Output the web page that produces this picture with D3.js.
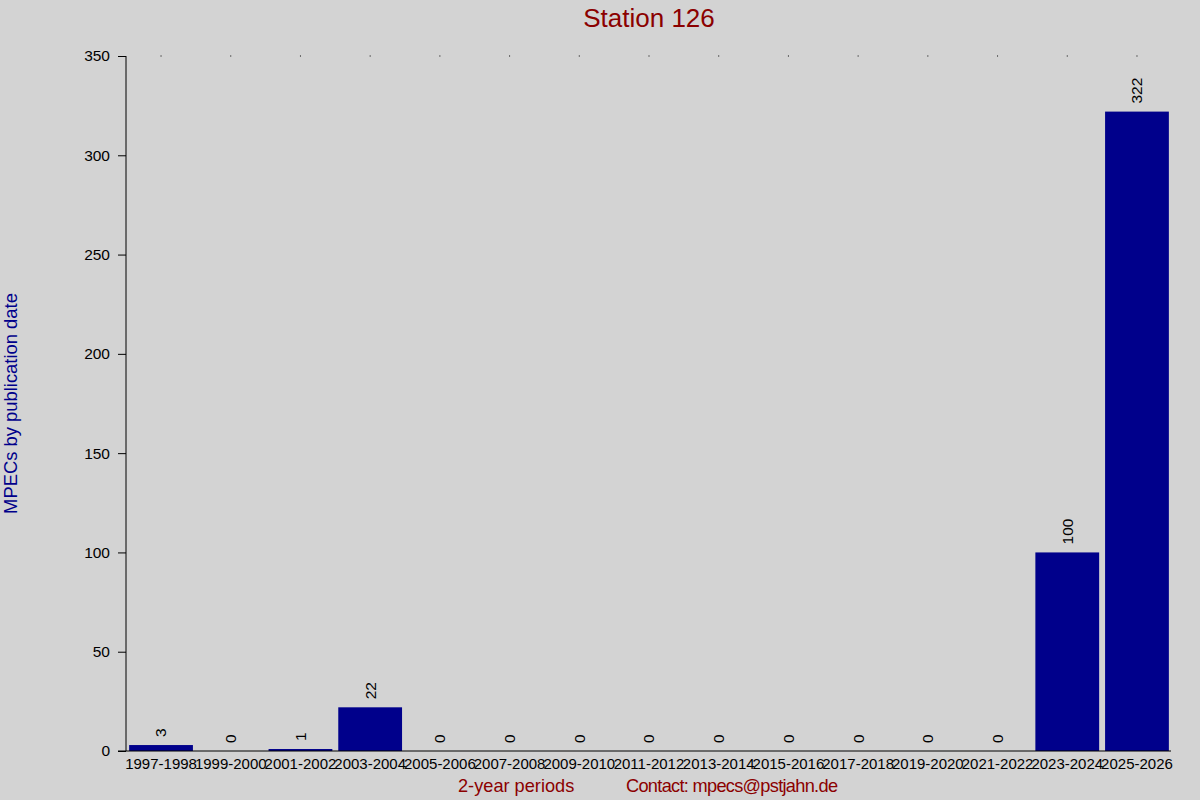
<!DOCTYPE html>
<html>
<head>
<meta charset="utf-8">
<style>
  body { margin: 0; background: #d3d3d3; }
  svg { display: block; font-family: "Liberation Sans", Arial, sans-serif; }
</style>
</head>
<body>
<svg width="1200" height="800"></svg>
<script src="https://d3js.org/d3.v7.min.js"></script>
<script>

    var periods = ["1997-1998", "1999-2000", "2001-2002", "2003-2004", "2005-2006",
                   "2007-2008", "2009-2010", "2011-2012", "2013-2014", "2015-2016",
                   "2017-2018", "2019-2020", "2021-2022", "2023-2024", "2025-2026"];
    var counts = [3, 0, 1, 22, 0, 0, 0, 0, 0, 0, 0, 0, 0, 100, 322];
    var yTicks = [0, 50, 100, 150, 200, 250, 300, 350];

    var svg = d3.select("svg"),
        margin = {top: 56, right: 28, bottom: 49, left: 126},
        width = +svg.attr("width") - margin.left - margin.right,
        height = +svg.attr("height") - margin.top - margin.bottom,
        g = svg.append("g").attr("transform", "translate(" + margin.left + "," + margin.top + ")");

    svg.insert("rect", ":first-child")
        .attr("width", 1200).attr("height", 800)
        .attr("fill", "#d3d3d3");

    var x = d3.scaleBand()
        .domain(periods)
        .range([0, width])
        .paddingInner(0.085)
        .paddingOuter(0.045);

    var y = d3.scaleLinear()
        .domain([0, 350])
        .range([height, 0]);

    // bars
    g.selectAll(".bar")
        .data(counts)
        .enter().append("rect")
        .attr("class", "bar")
        .attr("x", function(d, i) { return x(periods[i]); })
        .attr("y", function(d) { return y(d); })
        .attr("width", x.bandwidth())
        .attr("height", function(d) { return height - y(d); })
        .attr("fill", "#00008b");

    // value labels, rotated
    g.selectAll(".val")
        .data(counts)
        .enter().append("text")
        .attr("class", "val")
        .attr("transform", function(d, i) {
            return "translate(" + (x(periods[i]) + x.bandwidth() / 2) + "," + (y(d) - 8) + ") rotate(-90)";
        })
        .attr("dy", "0.35em")
        .attr("font-size", 15.5)
        .attr("fill", "#000")
        .text(function(d) { return d; });

    // y axis
    var yAxis = g.append("g")
        .call(d3.axisLeft(y).tickValues(yTicks).tickSize(8).tickPadding(8));
    yAxis.select(".domain").attr("d", "M0," + height + "V0");
    yAxis.selectAll("text").attr("font-size", 15.5).attr("font-family", "Liberation Sans, Arial, sans-serif");

    // x axis
    var xAxis = g.append("g")
        .attr("transform", "translate(0," + height + ")")
        .call(d3.axisBottom(x).tickSize(0).tickPadding(7));
    xAxis.select(".domain").attr("d", "M-8,0H" + (width - 1));
    xAxis.selectAll("text").attr("font-size", 15).attr("font-family", "Liberation Sans, Arial, sans-serif");

    // little dots along the top
    g.selectAll(".dot")
        .data(periods)
        .enter().append("rect")
        .attr("class", "dot")
        .attr("x", function(d) { return x(d) + x.bandwidth() / 2 - 0.5; })
        .attr("y", -0.5)
        .attr("width", 1)
        .attr("height", 1)
        .attr("fill", "#000");

    // title
    svg.append("text")
        .attr("x", margin.left + width / 2)
        .attr("y", 27)
        .attr("text-anchor", "middle")
        .attr("font-size", 26)
        .attr("fill", "#8b0000")
        .text("Station 126");

    // y label
    svg.append("text")
        .attr("transform", "translate(17," + (margin.top + height / 2) + ") rotate(-90)")
        .attr("text-anchor", "middle")
        .attr("font-size", 18.4)
        .attr("fill", "#00008b")
        .text("MPECs by publication date");

    // bottom texts
    svg.append("text")
        .attr("x", 458)
        .attr("y", 792)
        .attr("font-size", 18.2)
        .attr("fill", "#8b0000")
        .text("2-year periods");

    svg.append("text")
        .attr("x", 626)
        .attr("y", 792)
        .attr("font-size", 18.2)
        .attr("fill", "#8b0000")
        .attr("textLength", 212)
        .attr("lengthAdjust", "spacing")
        .text("Contact: mpecs@pstjahn.de");

</script>
</body>
</html>
